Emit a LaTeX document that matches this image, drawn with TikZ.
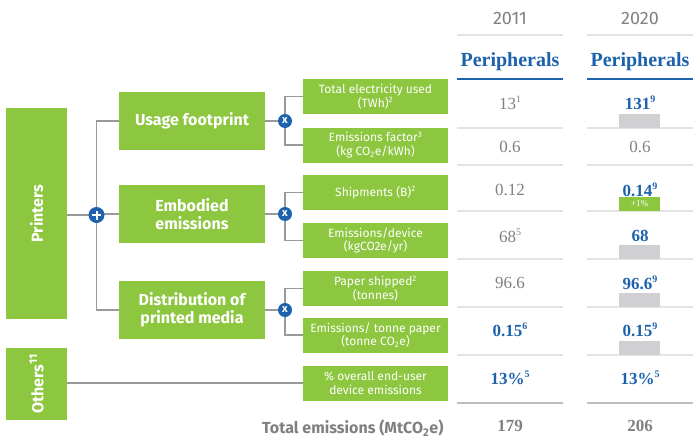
\documentclass[tikz,border=0pt]{standalone}
\usepackage{fontspec}
\setmainfont{Liberation Serif}
\setsansfont{Fira Sans}
\definecolor{grn}{HTML}{8DC63F}
\definecolor{blu}{HTML}{1D62AD}
\definecolor{txtgray}{HTML}{808080}
\definecolor{rulec}{HTML}{E4E4E4}
\definecolor{rulek}{HTML}{BDBDBD}
\definecolor{conn}{HTML}{9A9A9A}
\definecolor{barc}{HTML}{D0D0D2}
\newcommand\supx[1]{\raisebox{0.42em}{\fontsize{10}{10}\selectfont #1}}
\tikzset{
  gbox/.style={fill=grn, text=white, inner sep=0pt, align=center,
    font=\sffamily\bfseries\fontsize{16}{18}\selectfont},
  midbox/.style={gbox, minimum width=146pt, minimum height=58pt},
  rbox/.style={fill=grn, text=white, inner sep=0pt, align=center,
    minimum width=145pt, minimum height=35pt,
    font=\sffamily\fontsize{12}{13.5}\selectfont},
  conline/.style={draw=conn, line width=1.5pt},
  opcirc/.style={circle, fill=blu, text=white, inner sep=0pt,
    font=\sffamily\bfseries\fontsize{11}{11}\selectfont},
  yearlbl/.style={text=txtgray, font=\sffamily\fontsize{18}{18}\selectfont},
  perilbl/.style={text=blu, font=\bfseries\fontsize{20}{20}\selectfont},
  gval/.style={text=txtgray, font=\fontsize{17}{17}\selectfont},
  bval/.style={text=blu, font=\bfseries\fontsize{17}{17}\selectfont},
  lrule/.style={draw=rulec, line width=2pt},
  krule/.style={draw=rulek, line width=2.5pt},
  brule/.style={draw=blu, line width=2.5pt},
  gbar/.style={fill=barc, inner sep=0pt, minimum width=41pt, minimum height=14pt},
  pbar/.style={fill=grn, inner sep=0pt, minimum width=41pt, minimum height=14pt,
    text=white, font=\fontsize{9}{9}\selectfont},
}
\begin{document}
\begin{tikzpicture}[x=1pt,y=-1pt]
\useasboundingbox (0,0) rectangle (693,439);

% left boxes
\node[gbox, minimum width=211pt, minimum height=61pt, rotate=90] (printers) at (36.5,213.5) {Printers};
\node[gbox, minimum width=72pt, minimum height=61pt, rotate=90] (others) at (36.5,384) {Others\textsuperscript{11}};

\node[midbox] (usage) at (192,121) {Usage footprint};
\node[midbox] (emb) at (192,214) {Embodied\\emissions};
\node[midbox] (dist) at (192,310) {Distribution of\\printed media};

% right boxes
\node[rbox] (r1) at (375.5,96.5) {Total electricity used\\(TWh)\textsuperscript{2}};
\node[rbox] (r2) at (375.5,145) {Emissions factor\textsuperscript{3}\\(kg CO\textsubscript{2}e/kWh)};
\node[rbox] (r3) at (375.5,192.5) {Shipments (B)\textsuperscript{2}};
\node[rbox] (r4) at (375.5,240.5) {Emissions/device\\(kgCO2e/yr)};
\node[rbox] (r5) at (375.5,288.5) {Paper shipped\textsuperscript{2}\\(tonnes)};
\node[rbox] (r6) at (375.5,335) {Emissions/ tonne paper\\(tonne CO\textsubscript{2}e)};
\node[rbox] (r7) at (375.5,383) {\% overall end-user\\device emissions};

% operator positions
\coordinate (plusc) at (96.5,215);
\coordinate (x1c) at (285,121);
\coordinate (x2c) at (285,214);
\coordinate (x3c) at (285,310);

% connectors
\draw[conline] (printers.south |- plusc) -- (plusc);
\draw[conline] (usage.west) -| (plusc);
\draw[conline] (dist.west) -| (plusc);
\draw[conline] (emb.west) -- (emb.west -| plusc);
\draw[conline] (usage.east) -- (x1c);
\draw[conline] (r1.west) -| (x1c);
\draw[conline] (r2.west) -| (x1c);
\draw[conline] (emb.east) -- (x2c);
\draw[conline] (r3.west) -| (x2c);
\draw[conline] (r4.west) -| (x2c);
\draw[conline] (dist.east) -- (x3c);
\draw[conline] (r5.west) -| (x3c);
\draw[conline] (r6.west) -| (x3c);
\draw[conline] (others.south |- r7.west) -- (r7.west);

\node[opcirc, minimum size=16pt] (plus) at (plusc) {};
\draw[white, line width=2pt] ([xshift=-4.5pt]plus.center) -- ([xshift=4.5pt]plus.center);
\draw[white, line width=2pt] ([yshift=-4.5pt]plus.center) -- ([yshift=4.5pt]plus.center);
\node[opcirc, minimum size=14pt] (x1) at (x1c) {x};
\node[opcirc, minimum size=14pt] (x2) at (x2c) {x};
\node[opcirc, minimum size=14pt] (x3) at (x3c) {x};

% table headers
\node[yearlbl] (y1) at (510,18) {2011};
\node[yearlbl] (y2) at (640,18) {2020};
\draw[lrule] (457,35) -- (563,35);
\draw[lrule] (587,35) -- (693,35);
\node[perilbl] (p1) at (510,62) {Peripherals};
\node[perilbl] (p2) at (640,62) {Peripherals};
\draw[brule] (457,79) -- (563,79);
\draw[brule] (587,79) -- (693,79);

% rules
\foreach \yy in {128,165,211,259,307,355} {
  \draw[lrule] (457,\yy) -- (563,\yy);
  \draw[lrule] (587,\yy) -- (693,\yy);
}
\draw[krule] (457,403) -- (563,403);
\draw[krule] (587,403) -- (693,403);

% bars
\node[gbar] (b1) at (639.5,121) {};
\node[pbar] (b3) at (639.5,204) {+1\%};
\node[gbar] (b4) at (639.5,252) {};
\node[gbar] (b5) at (639.5,300) {};
\node[gbar] (b6) at (639.5,348) {};

% 2011 values
\node[gval] (a1) at (510,103) {13\supx{1}};
\node[gval] (a2) at (510,147) {0.6};
\node[gval] (a3) at (510,190) {0.12};
\node[gval] (a4) at (510,236) {68\supx{5}};
\node[gval] (a5) at (510,283) {96.6};
\node[bval] (a6) at (510,330) {0.15\supx{6}};
\node[bval] (a7) at (510,378) {13\%\supx{5}};
\node[gval, font=\bfseries\fontsize{17}{17}\selectfont] (a8) at (510,426) {179};

% 2020 values
\node[bval] (c1) at (640,103) {131\supx{9}};
\node[gval] (c2) at (640,147) {0.6};
\node[bval] (c3) at (640,190) {0.14\supx{9}};
\node[bval] (c4) at (640,236) {68};
\node[bval] (c5) at (640,283) {96.6\supx{9}};
\node[bval] (c6) at (640,330) {0.15\supx{9}};
\node[bval] (c7) at (640,378) {13\%\supx{5}};
\node[gval, font=\bfseries\fontsize{17}{17}\selectfont] (c8) at (640,426) {206};

\node[text=txtgray, anchor=east, font=\sffamily\bfseries\fontsize{16}{16}\selectfont] (tot) at (447,428) {Total emissions (MtCO\textsubscript{2}e)};
\end{tikzpicture}
\end{document}
